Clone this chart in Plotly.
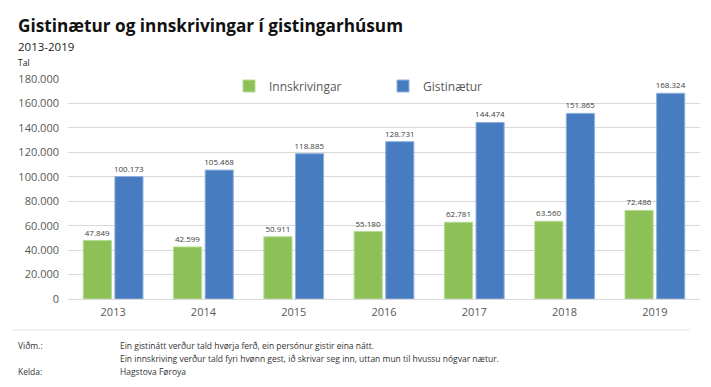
import plotly.graph_objects as go

years = ["2013", "2014", "2015", "2016", "2017", "2018", "2019"]
innskrivingar = [47849, 42599, 50911, 55180, 62781, 63560, 72486]
gistinaetur = [100173, 105468, 118885, 128731, 144474, 151865, 168324]
tick_vals = [0, 20000, 40000, 60000, 80000, 100000, 120000, 140000, 160000, 180000]

GREEN = "#8DC158"
BLUE = "#487CC1"
FONT = "Open Sans"

OFF = 8  # page body margin
W, H = 703, 379
L, R, T, B = 60, 11, 71, 88
PW, PH = W - L - R, H - T - B


def px(x):
    return (x - OFF - L) / PW


def py(y):
    return (H - B - (y - OFF)) / PH


label_font = dict(family=FONT, size=8, color="#404040")

fig = go.Figure()
fig.add_trace(go.Bar(
    x=years, y=innskrivingar, name="Innskrivingar",
    marker=dict(color=GREEN, line=dict(color="#B5DB94", width=1)),
    texttemplate="%{y:,}", textposition="outside", cliponaxis=False, constraintext="none",
    textfont=label_font,
))
fig.add_trace(go.Bar(
    x=years, y=gistinaetur, name="Gistinætur",
    marker=dict(color=BLUE, line=dict(color="#8FB0DD", width=1)),
    texttemplate="%{y:,}", textposition="outside", cliponaxis=False, constraintext="none",
    textfont=label_font,
))

annotations = [
    dict(text="<b>Gistinætur og innskrivingar í gistingarhúsum</b>", x=px(16), y=py(25),
         font=dict(family=FONT, size=17.2, color="#111111")),
    dict(text="2013-2019", x=px(16), y=py(46), font=dict(family=FONT, size=11.5, color="#222222")),
    dict(text="Tal", x=px(16), y=py(63), font=dict(family=FONT, size=8.5, color="#222222")),
    dict(text="Viðm.:", x=px(16), y=py(345), font=dict(family=FONT, size=8.5, color="#333333")),
    dict(text="Ein gistinátt verður tald hvørja ferð, ein persónur gistir eina nátt.", x=px(118), y=py(345),
         font=dict(family=FONT, size=8.5, color="#333333")),
    dict(text="Ein innskriving verður tald fyri hvønn gest, ið skrivar seg inn, uttan mun til hvussu nógvar nætur.",
         x=px(118), y=py(358), font=dict(family=FONT, size=8.5, color="#333333")),
    dict(text="Kelda:", x=px(16), y=py(371), font=dict(family=FONT, size=8.5, color="#333333")),
    dict(text="Hagstova Føroya", x=px(118), y=py(371), font=dict(family=FONT, size=8.5, color="#333333")),
]
for a in annotations:
    a.update(xref="paper", yref="paper", xanchor="left", yanchor="middle", showarrow=False)

fig.update_layout(
    width=W, height=H,
    margin=dict(l=L, r=R, t=T, b=B),
    paper_bgcolor="white", plot_bgcolor="white",
    separators=",.",
    barmode="group", bargap=0.3, bargroupgap=0.11,
    font=dict(family=FONT, color="#595959"),
    showlegend=True,
    legend=dict(orientation="h", x=px(229), y=py(86), xanchor="left", yanchor="middle",
                entrywidth=109, itemwidth=30, bgcolor="rgba(0,0,0,0)",
                font=dict(family=FONT, size=12, color="#595959"),
                traceorder="normal"),
    annotations=annotations,
    shapes=[dict(type="line", xref="paper", yref="paper", x0=px(12), x1=px(690), y0=py(330), y1=py(330),
                 line=dict(color="#E6E6E6", width=1))],
)
fig.update_yaxes(range=[0, 180000], tickvals=tick_vals, tickformat=",d",
                 showgrid=True, gridcolor="#D9D9D9", gridwidth=1,
                 zeroline=True, zerolinecolor="#D9D9D9", zerolinewidth=1,
                 showline=False, ticks="", ticklen=0, ticklabelstandoff=8,
                 tickfont=dict(family=FONT, size=11, color="#595959"))
fig.update_xaxes(showgrid=False, showline=False, ticks="", ticklabelstandoff=5,
                 tickfont=dict(family=FONT, size=11, color="#595959"))

fig.write_html("out.html")
